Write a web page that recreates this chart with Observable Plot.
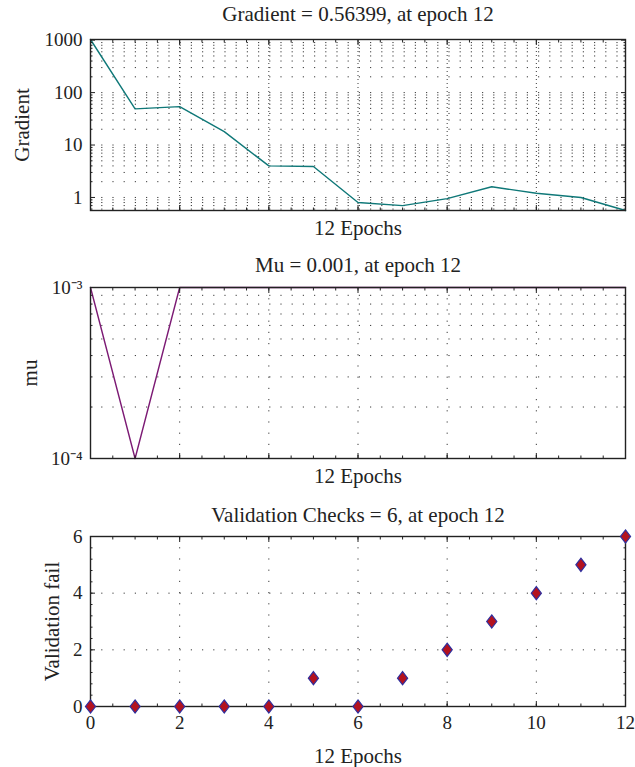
<!DOCTYPE html>
<html>
<head>
<meta charset="utf-8">
<script src="https://cdn.jsdelivr.net/npm/d3@7"></script>
<script src="https://cdn.jsdelivr.net/npm/@observablehq/plot@0.6"></script>
<style>
  html, body { margin: 0; padding: 0; background: #fff; }
  #wrap { position: relative; width: 635px; height: 767px; overflow: hidden; }
  #wrap svg { position: absolute; left: 0; }
</style>
</head>
<body>
<div id="wrap"></div>
<script>
// ---- data ----
const epochs = [0, 1, 2, 3, 4, 5, 6, 7, 8, 9, 10, 11, 12];
const gradient = [1030, 49, 54, 18, 4.0, 3.9, 0.8, 0.7, 0.95, 1.6, 1.2, 1.0, 0.56399];
const mu = [1e-3, 1e-4, 1e-3, 1e-3, 1e-3, 1e-3, 1e-3, 1e-3, 1e-3, 1e-3, 1e-3, 1e-3, 1e-3];
const valFail = [0, 0, 0, 0, 0, 1, 0, 1, 2, 3, 4, 5, 6];

const titles = ["Gradient = 0.56399, at epoch 12", "Mu = 0.001, at epoch 12", "Validation Checks = 6, at epoch 12"];
const yLabels = ["Gradient", "mu", "Validation fail"];
const xLabel = "12 Epochs";

const xTicks = [0, 2, 4, 6, 8, 10, 12];
const xGrid = [2, 4, 6, 8, 10];
const xMinor = d3.range(0, 12.01, 0.5);
const gradTicks = [1, 10, 100, 1000];
const muTicks = [1e-4, 1e-3];
const valTicks = [0, 2, 4, 6];
const valGrid = [2, 4];
const valMinor = d3.range(0, 6.01, 0.4);

const gradDomain = [0.56399, 1030];
const muDomain = [1e-4, 1e-3];

const gradMinor = d3.scaleLog().domain(gradDomain).ticks().filter(v => !gradTicks.includes(v));
const muMinor = d3.scaleLog().domain(muDomain).ticks().filter(v => v > 1.05e-4 && v < 0.95e-3);

const rows = epochs.map((e, i) => ({epoch: e, gradient: gradient[i], mu: mu[i], val: valFail[i]}));

// ---- style ----
const ink = "#222";
const font = "Liberation Serif, Times New Roman, serif";
const gridStroke = "#3a3a3a";
const blank = () => "";
const tickFs = 19;
const labFs = 21;
const sup = {"-": "\u207B", "0": "\u2070", "1": "\u00B9", "2": "\u00B2", "3": "\u00B3", "4": "\u2074"};
const powFmt = d => "10" + String(Math.round(Math.log10(d))).split("").map(c => sup[c]).join("");

function frameMarks(opts) {
  const {yTicks, yMinor, yFmt, title, ylab, ylabDx, titleDy, xlabDy, xLabels} = opts;
  return [
    Plot.axisX({anchor: "bottom", ticks: xTicks, tickSize: -5, tickPadding: 14, label: null,
      tickFormat: xLabels ? (d => String(d)) : blank, fontSize: tickFs, color: ink, stroke: ink}),
    Plot.axisX({anchor: "top", ticks: xTicks, tickSize: -5, label: null, tickFormat: blank, stroke: ink}),
    Plot.axisX({anchor: "bottom", ticks: xMinor, tickSize: -2.5, label: null, tickFormat: blank, stroke: ink}),
    Plot.axisX({anchor: "top", ticks: xMinor, tickSize: -2.5, label: null, tickFormat: blank, stroke: ink}),
    Plot.axisY({anchor: "left", ticks: yTicks, tickSize: -5, tickPadding: 13, label: null,
      tickFormat: yFmt, fontSize: tickFs, color: ink, stroke: ink}),
    Plot.axisY({anchor: "right", ticks: yTicks, tickSize: -5, label: null, tickFormat: blank, stroke: ink}),
    Plot.axisY({anchor: "left", ticks: yMinor, tickSize: -2.5, label: null, tickFormat: blank, stroke: ink}),
    Plot.axisY({anchor: "right", ticks: yMinor, tickSize: -2.5, label: null, tickFormat: blank, stroke: ink}),
    Plot.frame({stroke: ink, strokeWidth: 1.4}),
    Plot.text([title], {frameAnchor: "top", dy: titleDy, text: d => d, fontSize: labFs, fill: ink, lineAnchor: "middle"}),
    Plot.text([xLabel], {frameAnchor: "bottom", dy: xlabDy, text: d => d, fontSize: labFs, fill: ink, lineAnchor: "middle"}),
    Plot.text([ylab], {frameAnchor: "left", dx: ylabDx, rotate: -90, text: d => d, fontSize: labFs, fill: ink, lineAnchor: "middle", textAnchor: "middle"})
  ];
}

const common = {width: 635, marginLeft: 90, marginRight: 10,
  style: {fontFamily: font, fontSize: tickFs + "px", color: ink, background: "transparent", overflow: "visible"}};

// ---- panel 1: gradient ----
const p1 = Plot.plot({
  ...common, height: 245, marginTop: 39, marginBottom: 35,
  x: {domain: [0, 12]},
  y: {type: "log", domain: gradDomain},
  marks: [
    Plot.ruleY(gradMinor, {stroke: gridStroke, strokeWidth: 1, strokeDasharray: "1.2,10"}),
    Plot.ruleY(gradTicks.slice(0, 3), {stroke: gridStroke, strokeWidth: 1, strokeDasharray: "1.2,10"}),
    Plot.ruleX(xGrid, {stroke: gridStroke, strokeWidth: 1, strokeDasharray: "1,3"}),
    Plot.line(rows, {x: "epoch", y: "gradient", stroke: "#0f7878", strokeWidth: 1.4}),
    ...frameMarks({yTicks: gradTicks, yMinor: gradMinor, yFmt: d => String(d), title: titles[0],
      ylab: yLabels[0], ylabDx: -68, titleDy: -25, xlabDy: 18, xLabels: false})
  ]
});
p1.style.top = "0px";

// ---- panel 2: mu ----
const p2 = Plot.plot({
  ...common, height: 250, marginTop: 42, marginBottom: 37,
  x: {domain: [0, 12]},
  y: {type: "log", domain: muDomain},
  marks: [
    Plot.ruleY(muMinor, {stroke: gridStroke, strokeWidth: 1, strokeDasharray: "1.2,10"}),
    Plot.ruleX(xGrid, {stroke: gridStroke, strokeWidth: 1, strokeDasharray: "1.2,10"}),
    Plot.line(rows, {x: "epoch", y: "mu", stroke: "#7c1a74", strokeWidth: 1.4}),
    ...frameMarks({yTicks: muTicks, yMinor: muMinor, yFmt: powFmt, title: titles[1],
      ylab: yLabels[1], ylabDx: -60, titleDy: -22, xlabDy: 18, xLabels: false})
  ]
});
p2.style.top = "245px";

// ---- panel 3: validation checks ----
const diamond = {
  draw(ctx, size) {
    const r = Math.sqrt(size / Math.PI);
    const h = r * 1.2, w = r * 0.92;
    ctx.moveTo(0, -h); ctx.lineTo(w, 0); ctx.lineTo(0, h); ctx.lineTo(-w, 0); ctx.closePath();
  }
};
const p3 = Plot.plot({
  ...common, height: 272, marginTop: 41, marginBottom: 61,
  x: {domain: [0, 12]},
  y: {domain: [0, 6]},
  marks: [
    Plot.ruleY(valGrid, {stroke: gridStroke, strokeWidth: 1, strokeDasharray: "1.2,10"}),
    Plot.ruleX(xGrid, {stroke: gridStroke, strokeWidth: 1, strokeDasharray: "1.2,10"}),
    ...frameMarks({yTicks: valTicks, yMinor: valMinor, yFmt: d => String(d), title: titles[2],
      ylab: yLabels[2], ylabDx: -38, titleDy: -21, xlabDy: 50, xLabels: true}),
    Plot.dot(rows, {x: "epoch", y: "val", symbol: diamond, r: 5.5, fill: "#b3121f", stroke: "#2e2e9e", strokeWidth: 1.2})
  ]
});
p3.style.top = "495px";

const wrap = document.getElementById("wrap");
wrap.append(p1, p2, p3);
</script>
</body>
</html>
